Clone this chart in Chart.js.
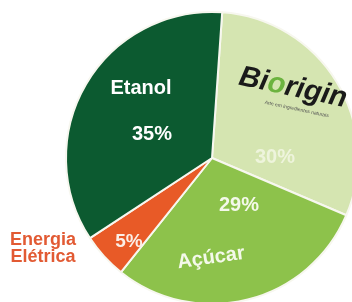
<!DOCTYPE html>
<html>
<head>
<meta charset="utf-8">
<script src="https://cdn.jsdelivr.net/npm/chart.js@4"></script>
<style>
  html, body { margin: 0; padding: 0; background: #fff; width: 352px; height: 302px; overflow: hidden; position: relative; }
  #wrap { position: absolute; left: 0; top: 0; width: 420px; height: 320px; }
</style>
</head>
<body>
<div id="wrap"><canvas id="myChart" width="420" height="320"></canvas></div>
<script>
// fatias, no sentido horário a partir do topo
var categorias = ['Biorigin', 'Açúcar', 'Energia Elétrica', 'Etanol'];
var valores = [30, 29, 5, 35];
var rotulos = ['30%', '29%', '5%', '35%'];
var cores = ['#d5e5b1', '#8dc24b', '#e85a27', '#0c5a30'];

// textos sobre o gráfico: [texto, dx, dy, cor, tamanho, rotação]
var textos = [
  ['Etanol', -71, -70, '#ffffff', 20, 0],
  [rotulos[3], -60, -24, '#ffffff', 20, 0],
  [rotulos[0], 63, -1, '#eef4dc', 20, 0],
  [rotulos[1], 27, 47, '#f4f9ea', 20, 0],
  ['Açúcar', -1, 100, '#f4f9ea', 20, -8],
  [rotulos[2], -83, 84, '#fbeee6', 19, 0],
  ['Energia', -169, 82, '#e25a33', 18, 0],
  ['Elétrica', -169, 99, '#e25a33', 18, 0]
];

var textPlugin = {
  id: 'textos',
  afterDraw: function(chart) {
    var ctx = chart.ctx;
    var arc = chart.getDatasetMeta(0).data[0];
    var cx = arc.x, cy = arc.y;
    ctx.save();
    ctx.textAlign = 'center';
    ctx.textBaseline = 'middle';
    textos.forEach(function(t) {
      ctx.save();
      ctx.translate(cx + t[1], cy + t[2]);
      ctx.rotate(t[5] * Math.PI / 180);
      ctx.font = 'bold ' + t[4] + 'px "Liberation Sans", Arial, sans-serif';
      ctx.fillStyle = t[3];
      ctx.fillText(t[0], 0, 0);
      ctx.restore();
    });

    // logo Biorigin
    ctx.save();
    ctx.translate(cx + 81, cy - 70);
    ctx.rotate(12 * Math.PI / 180);
    ctx.font = 'italic bold 29px "Liberation Sans", Arial, sans-serif';
    ctx.textAlign = 'left';
    var partes = [['Bi', '#1a1a1a'], ['o', '#6cb33f'], ['rigin', '#1a1a1a']];
    var total = 0;
    partes.forEach(function(p) { total += ctx.measureText(p[0]).width; });
    var x = -total / 2;
    partes.forEach(function(p) {
      ctx.fillStyle = p[1];
      ctx.fillText(p[0], x, 0);
      x += ctx.measureText(p[0]).width;
    });
    ctx.font = '5px "Liberation Sans", Arial, sans-serif';
    ctx.fillStyle = '#555';
    ctx.textAlign = 'center';
    ctx.fillText('Arte em ingredientes naturais', 8, 20);
    ctx.restore();

    ctx.restore();
  }
};

var ctx1 = document.getElementById('myChart').getContext('2d');
var graph = new Chart(ctx1, {
  type: 'pie',
  data: {
    labels: categorias,
    datasets: [{
      data: valores,
      backgroundColor: cores,
      borderColor: '#f7f7ef',
      borderWidth: 2
    }]
  },
  options: {
    responsive: false,
    animation: false,
    rotation: 4,
    layout: { padding: { left: 65, top: 11, right: 61, bottom: 15 } },
    plugins: {
      legend: { display: false },
      tooltip: { enabled: false }
    }
  },
  plugins: [textPlugin]
});
</script>
</body>
</html>
